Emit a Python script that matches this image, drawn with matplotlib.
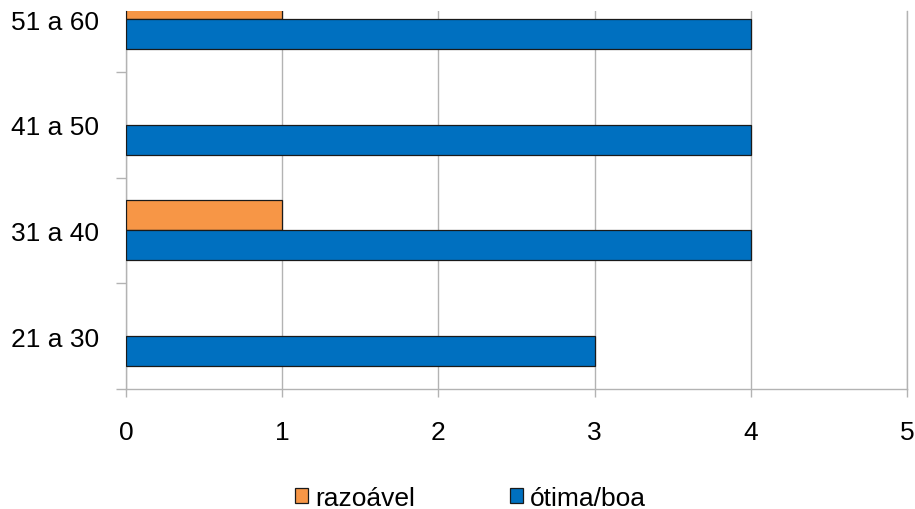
import matplotlib
matplotlib.use("Agg")
import matplotlib.pyplot as plt
import numpy as np
from matplotlib.ticker import FixedLocator

# data
faixas = ["21 a 30", "31 a 40", "41 a 50", "51 a 60"]
razoavel = [0, 1, 0, 1]
otima_boa = [3, 4, 4, 4]
series_names = ["razoável", "ótima/boa"]
x_ticks = [0, 1, 2, 3, 4, 5]

plt.rcParams["font.family"] = ["Liberation Sans", "DejaVu Sans"]
plt.rcParams["font.size"] = 19

fig = plt.figure(figsize=(9.15, 5.1), dpi=100)
ax = fig.add_axes([0.1377, 0.2353, 0.8536, 0.7412])

y = np.arange(len(faixas))
h = 0.284
grid_c = "#b3b3b3"


def edges(vals):
    # zero-length bars get no outline
    return ["#1a1a1a" if v else "none" for v in vals]


ax.barh(y + h / 2, razoavel, height=h, color="#f79646",
        edgecolor=edges(razoavel), linewidth=0.9,
        label=series_names[0], zorder=3)
ax.barh(y - h / 2, otima_boa, height=h, color="#0070c0",
        edgecolor=edges(otima_boa), linewidth=0.9,
        label=series_names[1], zorder=3)

ax.set_xlim(0, 5)
ax.set_ylim(-0.5, 3.076)
ax.set_xticks(x_ticks)
ax.set_yticks(y)
ax.set_yticklabels(faixas)
ax.yaxis.set_minor_locator(FixedLocator(np.arange(-0.5, 3.6, 1.0)))

ax.grid(axis="x", color=grid_c, linewidth=1, zorder=0)
ax.spines["top"].set_visible(False)
for s in ["left", "bottom", "right"]:
    ax.spines[s].set_color(grid_c)
    ax.spines[s].set_linewidth(1)

ax.tick_params(axis="y", which="major", length=0, pad=19.5)
ax.tick_params(axis="y", which="minor", length=7.2, color=grid_c, width=1)
ax.tick_params(axis="x", which="major", length=5.8, color=grid_c, width=1, pad=16.5)

handles, labels = ax.get_legend_handles_labels()
leg = fig.legend(handles, labels, loc="center", ncol=2, frameon=False,
                 bbox_to_anchor=(0.514, 0.022), handlelength=0.5, handleheight=0.5,
                 handletextpad=0.26, columnspacing=3.6)
for p in leg.get_patches():
    p.set_edgecolor("#1a1a1a")

fig.savefig("out.png", dpi=100)
